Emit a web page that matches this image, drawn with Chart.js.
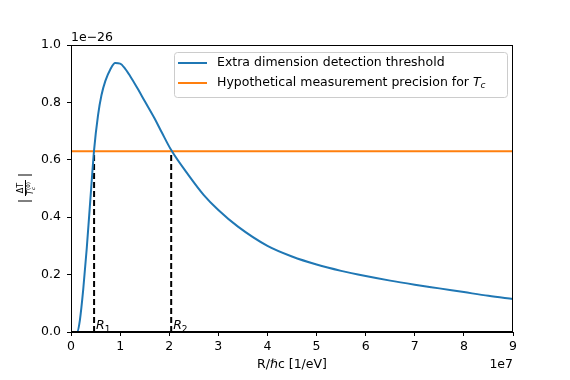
<!DOCTYPE html>
<html lang="en">
<head>
<meta charset="UTF-8">
<title>Extra dimension threshold</title>
<style>
  body { margin: 0; background: #fff; }
</style>
</head>
<body>
<canvas id="myChart" width="570" height="380"></canvas>
<script src="https://cdn.jsdelivr.net/npm/chart.js@4.4.1/dist/chart.umd.min.js"></script>
<script>
// R/hbar c in units of 1e7 1/eV, |dT/Tc0| in units of 1e-26
const rValues = [0, 0.13, 0.18, 0.25, 0.32, 0.4, 0.47, 0.55, 0.62, 0.7, 0.8, 0.9, 1.0, 1.1, 1.2, 1.35, 1.5, 1.7, 1.85,
                 2.04, 2.4, 2.7, 3.0, 3.4, 4.0, 4.5, 5.0, 5.5, 6.0, 6.5, 7.0, 7.5, 8.0, 8.5, 9.0];
const thresholdValues = [0, 0, 0.04, 0.15, 0.29, 0.475, 0.634, 0.755, 0.825, 0.875, 0.915, 0.937, 0.935, 0.918, 0.893, 0.85, 0.805, 0.745, 0.695,
                         0.634, 0.545, 0.478, 0.425, 0.367, 0.300, 0.263, 0.235, 0.213, 0.195, 0.179, 0.165, 0.152, 0.139, 0.126, 0.115];
const precisionLevel = 0.63;
const crossings = [0.47, 2.04];   // R1, R2
const crossingNames = ['1', '2'];
const xTicks = [0, 1, 2, 3, 4, 5, 6, 7, 8, 9];
const yTicks = [0.0, 0.2, 0.4, 0.6, 0.8, 1.0];
const seriesNames = ['Extra dimension detection threshold', 'Hypothetical measurement precision for '];

const FONT = '"DejaVu Sans", sans-serif';
const BLUE = '#1f77b4';
const ORANGE = '#ff7f0e';

var v_curve = rValues.map(function (r, i) { return { x: r, y: thresholdValues[i] }; });
var v_flat = [{ x: xTicks[0], y: precisionLevel }, { x: xTicks[xTicks.length - 1], y: precisionLevel }];

function f_dash(r) {
    return {
        label: 'R',
        data: [{ x: r, y: 0 }, { x: r, y: precisionLevel }],
        borderColor: '#000',
        borderWidth: 2,
        borderDash: [6, 3],
        pointRadius: 0,
        fill: false
    };
}

// frame, labels, legend, offset texts
const extrasPlugin = {
    id: 'extras',
    afterDraw(chart) {
        const ctx = chart.ctx;
        const a = chart.chartArea;
        const xs = chart.scales.x, ys = chart.scales.y;
        ctx.save();

        // frame
        ctx.strokeStyle = '#000';
        ctx.lineWidth = 1;
        ctx.strokeRect(Math.round(a.left) + 0.5, Math.round(a.top) + 0.5,
                       Math.round(a.right - a.left) - 1, Math.round(a.bottom - a.top) - 1);

        ctx.fillStyle = '#000';
        ctx.textBaseline = 'alphabetic';

        // R1 / R2 labels
        crossings.forEach(function (r, i) {
            var px = xs.getPixelForValue(r) + 2;
            var py = ys.getPixelForValue(0) - 3;
            ctx.font = 'italic 12.5px ' + FONT;
            ctx.textAlign = 'left';
            ctx.fillText('R', px, py);
            var w = ctx.measureText('R').width;
            ctx.font = '9px ' + FONT;
            ctx.fillText(crossingNames[i], px + w, py + 3);
        });

        // offset texts and x title
        ctx.font = '12.5px ' + FONT;
        ctx.textAlign = 'left';
        ctx.fillText('1e\u221226', a.left, 41);
        ctx.textAlign = 'right';
        ctx.fillText('1e7', a.right, 368);
        ctx.textAlign = 'center';
        ctx.fillText('R/\u210Fc [1/eV]', (a.left + a.right) / 2, 368);

        // y title: |dT / Tc^(0)| rotated
        ctx.save();
        ctx.translate(25, 188);
        ctx.rotate(-Math.PI / 2);
        ctx.lineWidth = 1;
        ctx.beginPath();
        ctx.moveTo(-13, -7); ctx.lineTo(-13, 7);
        ctx.moveTo(13, -7); ctx.lineTo(13, 7);
        ctx.moveTo(-8, 0.5); ctx.lineTo(8, 0.5);
        ctx.stroke();
        ctx.textAlign = 'center';
        ctx.font = '8px ' + FONT;
        ctx.fillText('\u0394T', 0, -2);
        ctx.textAlign = 'left';
        ctx.font = 'italic 8px ' + FONT;
        ctx.fillText('T', -7, 8);
        ctx.font = '5.5px ' + FONT;
        ctx.fillText('(0)', -2, 5);
        ctx.font = 'italic 5.5px ' + FONT;
        ctx.fillText('c', -2, 10);
        ctx.restore();

        // legend box
        var lx = 174, ly = 52, lw = 333, lh = 45;
        ctx.beginPath();
        ctx.roundRect(lx + 0.5, ly + 0.5, lw, lh, 3);
        ctx.fillStyle = 'rgba(255,255,255,0.8)';
        ctx.fill();
        ctx.strokeStyle = '#cccccc';
        ctx.stroke();

        var rows = [63, 83];
        var cols = [BLUE, ORANGE];
        rows.forEach(function (y, i) {
            ctx.strokeStyle = cols[i];
            ctx.lineWidth = 2;
            ctx.beginPath();
            ctx.moveTo(178, y); ctx.lineTo(207, y);
            ctx.stroke();
            ctx.fillStyle = '#000';
            ctx.textAlign = 'left';
            ctx.textBaseline = 'middle';
            ctx.font = '12.5px ' + FONT;
            ctx.fillText(seriesNames[i], 217, y);
            if (i === 1) {
                var w = ctx.measureText(seriesNames[i]).width;
                ctx.font = 'italic 12.5px ' + FONT;
                ctx.fillText('T', 217 + w, y);
                var wt = ctx.measureText('T').width;
                ctx.font = 'italic 9px ' + FONT;
                ctx.fillText('c', 217 + w + wt, y + 3);
            }
        });
        ctx.restore();
    }
};

const ctx = document.getElementById('myChart').getContext('2d');
const myChart = new Chart(ctx, {
    type: 'line',
    data: {
        datasets: [{
            label: seriesNames[0],
            data: v_curve,
            borderColor: BLUE,
            borderWidth: 2,
            pointRadius: 0,
            cubicInterpolationMode: 'monotone',
            fill: false
        }, {
            label: seriesNames[1],
            data: v_flat,
            borderColor: ORANGE,
            borderWidth: 2,
            pointRadius: 0,
            fill: false
        }, f_dash(crossings[0]), f_dash(crossings[1])]
    },
    options: {
        responsive: false,
        animation: false,
        devicePixelRatio: 1,
        layout: { padding: { top: 45, right: 57, left: 0, bottom: 0 } },
        plugins: { legend: { display: false }, tooltip: { enabled: false } },
        scales: {
            x: {
                type: 'linear',
                min: xTicks[0],
                max: xTicks[xTicks.length - 1],
                afterFit: function (s) { s.height = 48; },
                afterBuildTicks: function (s) { s.ticks = xTicks.map(function (v) { return { value: v }; }); },
                ticks: { color: '#000', font: { family: FONT, size: 12.5 }, padding: 3, maxRotation: 0,
                         callback: function (v) { return String(v); } },
                grid: { drawOnChartArea: false, color: '#000', tickLength: 4 },
                border: { color: '#000', width: 1 }
            },
            y: {
                min: yTicks[0],
                max: yTicks[yTicks.length - 1],
                afterFit: function (s) { s.width = 71; },
                afterBuildTicks: function (s) { s.ticks = yTicks.map(function (v) { return { value: v }; }); },
                ticks: { color: '#000', font: { family: FONT, size: 12.5 }, padding: 6,
                         callback: function (v) { return Number(v).toFixed(1); } },
                grid: { drawOnChartArea: false, color: '#000', tickLength: 4 },
                border: { color: '#000', width: 1 }
            }
        }
    },
    plugins: [extrasPlugin]
});
</script>
</body>
</html>
